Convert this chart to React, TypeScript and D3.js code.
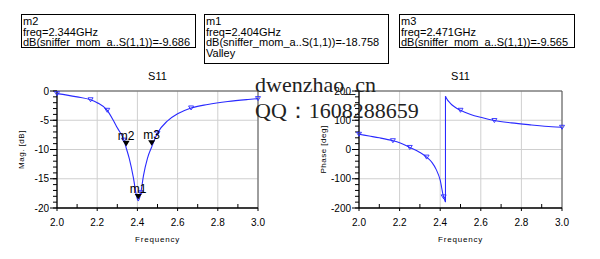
import React from "react";
import * as d3 from "d3";

const magFreq = [2.0, 2.05, 2.1, 2.167, 2.2, 2.25, 2.28, 2.3, 2.333, 2.344, 2.36, 2.38, 2.395, 2.404, 2.417, 2.43, 2.45, 2.471, 2.5, 2.55, 2.6, 2.667, 2.75, 2.85, 2.95, 3.0];
const magDb = [-0.45, -0.7, -1.0, -1.5, -2.0, -3.3, -5.0, -6.3, -8.4, -9.7, -11.6, -14.8, -17.8, -18.76, -17.4, -14.5, -11.5, -9.57, -7.2, -5.1, -3.9, -2.9, -2.3, -1.8, -1.45, -1.3];

const phaseFreqLow = [2.0, 2.05, 2.1, 2.167, 2.2, 2.25, 2.3, 2.333, 2.36, 2.38, 2.4, 2.415, 2.426];
const phaseLow = [52, 46, 40, 30, 23, 7, -10, -26, -45, -68, -105, -158, -180];
const phaseFreqHigh = [2.426, 2.43, 2.45, 2.47, 2.5, 2.55, 2.6, 2.667, 2.75, 2.85, 2.95, 3.0];
const phaseHigh = [182, 176, 158, 146, 134, 120, 110, 99, 91, 84, 78, 76];

const symbolFreq = [2.0, 2.167, 2.25, 2.333, 2.417, 2.5, 2.667, 3.0];

const markerNames = ["m2", "m1", "m3"];
const markerFreq = [2.344, 2.404, 2.471];
const markerDb = [-9.686, -18.758, -9.565];
const markerExtra = ["", "Valley", ""];

const xTicks = [2.0, 2.2, 2.4, 2.6, 2.8, 3.0];
const magTicks = [0, -5, -10, -15, -20];
const phaseTicks = [200, 100, 0, -100, -200];

const BLUE = "#2a2aff";
const GRID = "#cfcfcf";
const FONT = "'Liberation Sans', Arial, sans-serif";

function interp(fs: number[], vs: number[], f: number) {
  for (let i = 0; i < fs.length - 1; i++) {
    if (f >= fs[i] && f <= fs[i + 1]) {
      const t = (f - fs[i]) / (fs[i + 1] - fs[i] || 1);
      return vs[i] + t * (vs[i + 1] - vs[i]);
    }
  }
  return vs[vs.length - 1];
}

type PlotProps = {
  x0: number; x1: number; yTop: number; yBot: number;
  domain: [number, number]; ticks: number[]; minorStep: number;
  ylabel: string; children: (x: d3.ScaleLinear<number, number>, y: d3.ScaleLinear<number, number>) => React.ReactNode;
};

function Plot({ x0, x1, yTop, yBot, domain, ticks, minorStep, ylabel, children }: PlotProps) {
  const x = d3.scaleLinear().domain([2, 3]).range([x0, x1]);
  const y = d3.scaleLinear().domain(domain).range([yBot, yTop]);
  const xMinor = d3.range(2.1, 3.0, 0.2);
  const yMinor = d3.range(domain[0], domain[1] + 1e-9, minorStep);
  const cx = (x0 + x1) / 2;
  return (
    <g>
      {xTicks.map((t) => (
        <line key={"gx" + t} x1={x(t)} x2={x(t)} y1={yTop} y2={yBot} stroke={GRID} strokeWidth={1} />
      ))}
      {ticks.map((t) => (
        <line key={"gy" + t} x1={x0} x2={x1} y1={y(t)} y2={y(t)} stroke={GRID} strokeWidth={1} />
      ))}
      <line x1={x0} x2={x1} y1={yTop} y2={yTop} stroke="#555" strokeWidth={1} />
      <line x1={x1} x2={x1} y1={yTop} y2={yBot} stroke="#555" strokeWidth={1} />
      <line x1={x0} x2={x1} y1={yBot} y2={yBot} stroke="#000" strokeWidth={1.3} />
      <line x1={x0} x2={x0} y1={yTop} y2={yBot} stroke="#000" strokeWidth={1.3} />
      {yMinor.map((t) => (
        <line key={"my" + t} x1={x0 - 4} x2={x0} y1={y(t)} y2={y(t)} stroke="#000" strokeWidth={1} />
      ))}
      {ticks.map((t) => (
        <g key={"ty" + t}>
          <line x1={x0 - 7} x2={x0} y1={y(t)} y2={y(t)} stroke="#000" strokeWidth={1} />
          <text x={x0 - 8} y={y(t) + 3.5} textAnchor="end" fontSize={10} fontFamily={FONT} fill="#000">
            {t < 0 ? "-" + Math.abs(t) : String(t)}
          </text>
        </g>
      ))}
      {xMinor.map((t) => (
        <line key={"mx" + t} x1={x(t)} x2={x(t)} y1={yBot - 4} y2={yBot} stroke="#000" strokeWidth={1} />
      ))}
      {xTicks.map((t) => (
        <g key={"tx" + t}>
          <line x1={x(t)} x2={x(t)} y1={yBot} y2={yBot + 3} stroke="#000" strokeWidth={1} />
          <text x={x(t)} y={yBot + 18} textAnchor="middle" fontSize={10} fontFamily={FONT} fill="#000">
            {t.toFixed(1)}
          </text>
        </g>
      ))}
      <text x={cx} y={80} textAnchor="middle" fontSize={11} fontFamily={FONT} fill="#000">S11</text>
      <text x={cx} y={242} textAnchor="middle" fontSize={8} fontFamily={FONT} letterSpacing={0.8} fill="#000">Frequency</text>
      <text transform={`translate(${x0 - 33},${(yTop + yBot) / 2}) rotate(-90)`} textAnchor="middle" fontSize={8} fontFamily={FONT} letterSpacing={0.5} fill="#000">
        {ylabel}
      </text>
      {children(x, y)}
    </g>
  );
}

function tri(cx: number, cy: number, s: number) {
  return `M${cx - s},${cy - s * 0.8} L${cx + s},${cy - s * 0.8} L${cx},${cy + s * 0.8} Z`;
}

function MarkerBox({ x, w, h, lines }: { x: number; w: number; h: number; lines: string[] }) {
  return (
    <g>
      <rect x={x + 0.5} y={14.5} width={w} height={h} fill="#fff" stroke="#000" strokeWidth={1} />
      {lines.map((l, i) => (
        <text key={i} x={x + 2} y={25 + i * 10.7} fontSize={11} fontFamily={FONT} fill="#000">
          {l}
        </text>
      ))}
    </g>
  );
}

export default function App() {
  const magLine = (x: any, y: any) =>
    d3.line<number>().x((_, i) => x(magFreq[i])).y((d) => y(d)).curve(d3.curveMonotoneX)(magDb) || "";
  return (
    <svg width={600} height={259} style={{ position: "absolute", left: 0, top: 0, background: "#fff" }}>
      <rect width={600} height={259} fill="#fff" />
      <Plot x0={57} x1={258} yTop={91} yBot={208} domain={[-20, 0]} ticks={magTicks} minorStep={1} ylabel="Mag. [dB]">
        {(x, y) => (
          <g>
            <path d={magLine(x, y)} fill="none" stroke={BLUE} strokeWidth={1.1} />
            {symbolFreq.map((f) => (
              <path key={f} d={tri(x(f), y(interp(magFreq, magDb, f)), 2.5)} fill="none" stroke={BLUE} strokeWidth={0.9} />
            ))}
            {markerFreq.map((f, i) => (
              <g key={markerNames[i]}>
                <path d={tri(x(f), y(markerDb[i]) - 4, 3.5)} fill="#000" />
                <text x={x(f)} y={y(markerDb[i]) - 8} textAnchor="middle" fontSize={12} fontFamily={FONT} fill="#000">
                  {markerNames[i]}
                </text>
              </g>
            ))}
          </g>
        )}
      </Plot>
      <Plot x0={359} x1={562} yTop={91} yBot={208} domain={[-200, 200]} ticks={phaseTicks} minorStep={20} ylabel="Phase [deg]">
        {(x, y) => {
          const lo = d3.line<number>().x((_, i) => x(phaseFreqLow[i])).y((d) => y(d)).curve(d3.curveMonotoneX)(phaseLow) || "";
          const hi = d3.line<number>().x((_, i) => x(phaseFreqHigh[i])).y((d) => y(d)).curve(d3.curveMonotoneX)(phaseHigh) || "";
          const lastLo = phaseLow[phaseLow.length - 1];
          const firstHi = phaseHigh[0];
          return (
            <g>
              <path d={lo} fill="none" stroke={BLUE} strokeWidth={1.1} />
              <path d={hi} fill="none" stroke={BLUE} strokeWidth={1.1} />
              <line x1={x(phaseFreqLow[phaseFreqLow.length - 1])} x2={x(phaseFreqHigh[0])} y1={y(lastLo)} y2={y(firstHi)} stroke={BLUE} strokeWidth={1.1} />
              {symbolFreq.map((f) => {
                const v = f < 2.426 ? interp(phaseFreqLow, phaseLow, f) : interp(phaseFreqHigh, phaseHigh, f);
                return <path key={f} d={tri(x(f), y(v), 2.5)} fill="none" stroke={BLUE} strokeWidth={0.9} />;
              })}
            </g>
          );
        }}
      </Plot>
      <MarkerBox x={21} w={174} h={33} lines={["m2", "freq=2.344GHz", "dB(sniffer_mom_a..S(1,1))=-9.686"]} />
      <MarkerBox x={204} w={184} h={49} lines={["m1", "freq=2.404GHz", "dB(sniffer_mom_a..S(1,1))=-18.758", markerExtra[1]]} />
      <MarkerBox x={399} w={175} h={33} lines={["m3", "freq=2.471GHz", "dB(sniffer_mom_a..S(1,1))=-9.565"]} />
      <text x={255} y={92} fontSize={22} fontFamily="'Liberation Serif', 'DejaVu Serif', serif" fill="#222">dwenzhao_cn</text>
      <text x={255} y={118} fontSize={22} fontFamily="'Liberation Serif', 'DejaVu Serif', serif" fill="#222">QQ：1608288659</text>
    </svg>
  );
}
